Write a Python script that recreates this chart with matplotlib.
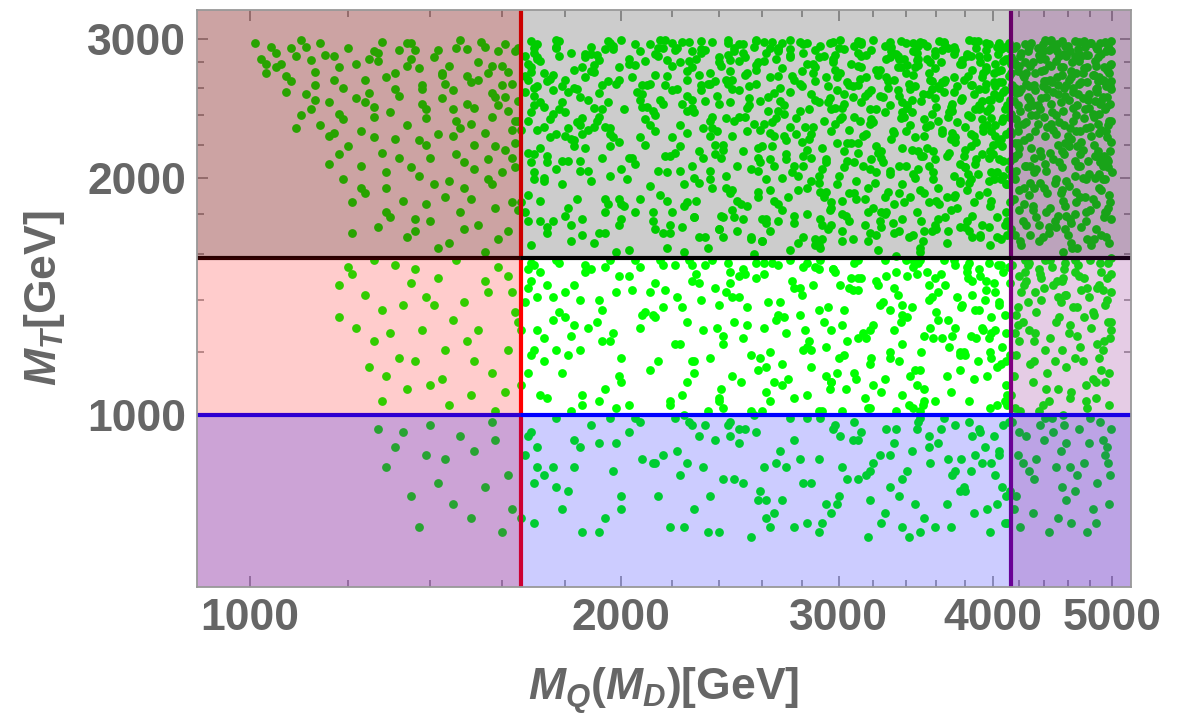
import matplotlib
matplotlib.use('Agg')
import matplotlib.pyplot as plt
import numpy as np

# scan points, (M_Q, M_T) pairs in units of 10 GeV

# M_T above ~1580 GeV
upper_left = [
    101,296, 127,281, 148,299, 113,262, 139,238, 156,271, 105,288, 132,254, 161,217, 144,189,
    118,276, 152,245, 109,231, 135,296, 163,263, 123,207, 141,284, 157,196, 116,249, 130,178,
    146,226, 103,271, 159,289, 126,239, 137,201, 151,264, 111,293, 165,182, 120,219, 143,252,
    134,168, 155,228, 107,257, 128,297, 149,209, 162,243, 115,286, 139,185, 124,266, 153,174,
    102,283, 145,277, 131,224, 158,253, 119,199, 136,290, 164,206, 112,244, 147,236, 127,173,
    154,297, 108,265, 140,212, 160,277, 122,252, 133,187, 150,291, 117,228, 142,163, 129,268,
    163,230, 106,279, 138,248, 156,211, 121,186, 146,258, 114,296, 134,233, 159,167, 125,283,
    152,220, 110,240, 143,270, 165,250, 129,194, 137,275, 104,293, 157,239, 118,214, 148,181,
    131,259, 161,295, 123,229, 140,176, 153,266, 113,272, 135,206, 164,221, 126,246, 145,198,
    109,285, 150,248, 119,260, 158,183, 132,290, 142,227, 116,208, 162,272, 128,215, 155,161,
    138,262, 103,279, 147,292, 124,191, 160,203, 134,277, 114,233, 151,234, 121,170, 144,263,
    165,292, 130,242, 157,256, 111,255, 139,220, 126,289, 149,194, 118,241, 163,186, 136,171,
    108,292, 143,271, 126,225, 159,247, 117,266, 151,188, 134,296, 162,171, 122,279, 147,214,
    105,276, 138,259, 155,293, 129,203, 164,236, 113,251, 146,244, 131,271, 158,219, 120,292,
    141,196, 153,280, 125,256, 136,177, 160,262, 110,299, 148,231, 132,212, 164,289, 119,237,
    145,165, 127,288, 156,199, 139,244, 116,226, 150,269, 123,194, 161,253, 135,283, 107,269,
    152,205, 129,181, 142,290, 163,212, 117,285, 137,223, 157,277, 124,249, 149,172, 112,282,
]

upper_mid = [
    247,236, 352,191, 203,279, 398,164, 309,294, 181,210, 377,251, 229,178, 333,266, 272,223,
    189,287, 264,171, 341,245, 407,219, 222,259, 296,183, 365,297, 173,232, 318,205, 385,274,
    236,199, 311,262, 170,288, 392,237, 255,168, 347,282, 208,246, 281,213, 412,296, 325,181,
    197,225, 274,291, 359,174, 231,270, 403,203, 167,257, 302,239, 386,186, 244,296, 338,218,
    289,164, 212,243, 371,228, 179,196, 328,283, 259,209, 394,259, 221,290, 346,200, 301,271,
    183,274, 317,166, 242,217, 408,281, 269,250, 356,233, 194,181, 380,206, 227,297, 293,192,
    361,261, 176,241, 283,296, 338,177, 214,204, 399,238, 252,284, 324,254, 186,169, 373,290,
    266,187, 401,271, 198,263, 305,221, 240,172, 349,297, 170,214, 387,244, 233,231, 313,276,
    207,289, 336,207, 279,243, 411,176, 168,266, 262,199, 384,227, 298,286, 225,161, 355,255,
    320,235, 192,170, 363,280, 249,258, 396,192, 285,212, 177,299, 342,168, 216,248, 308,261,
    379,213, 234,290, 171,230, 327,189, 257,274, 405,252, 200,205, 291,167, 368,239, 245,282,
    185,253, 299,196, 348,294, 223,219, 390,285, 276,175, 330,247, 166,186, 261,234, 413,210,
    238,265, 370,182, 205,295, 316,227, 270,200, 395,263, 180,242, 350,213, 287,290, 219,174,
    341,278, 256,160, 399,229, 172,281, 294,249, 228,207, 383,171, 311,298, 196,219, 360,246,
    275,269, 191,236, 334,159, 404,287, 246,193, 357,259, 213,270, 304,179, 169,209, 388,222,
    226,186, 366,266, 282,232, 178,298, 319,211, 251,288, 409,244, 198,161, 343,189, 263,253,
    389,202, 217,262, 297,280, 352,226, 174,173, 271,241, 327,294, 241,179, 402,261, 188,230,
    310,188, 257,298, 193,244, 376,197, 230,283, 345,169, 284,224, 414,271, 168,279, 303,206,
    203,162, 338,249, 264,211, 397,295, 182,224, 322,274, 250,185, 369,215, 215,299, 292,236,
    354,283, 176,258, 285,198, 239,229, 411,169, 306,262, 194,291, 378,252, 260,166, 330,204,
    224,248, 393,232, 268,291, 172,176, 337,238, 211,195, 359,275, 295,182, 243,266, 381,287,
    283,217, 199,276, 406,199, 253,245, 318,170, 187,287, 364,228, 232,258, 345,296, 273,189,
    174,265, 314,226, 240,172, 382,269, 209,237, 347,181, 289,284, 166,230, 398,216, 261,297,
    335,258, 255,205, 199,188, 372,293, 228,276, 303,248, 410,181, 185,210, 279,263, 351,166,
    247,292, 391,245, 181,183, 316,286, 264,228, 218,269, 358,203, 296,174, 233,212, 405,264,
    196,201, 328,268, 274,162, 402,226, 170,247, 348,278, 237,194, 385,179, 301,237, 214,285,
    362,185, 208,255, 293,211, 177,292, 321,197, 257,278, 395,290, 231,168, 340,229, 271,247,
    287,276, 359,211, 220,181, 408,257, 252,239, 187,268, 332,175, 270,296, 374,235, 199,222,
    172,218, 306,191, 244,286, 379,266, 210,262, 339,283, 281,168, 397,198, 229,242, 315,254,
    353,232, 180,179, 266,256, 314,207, 409,293, 238,220, 298,274, 190,245, 367,165, 253,184,
    226,273, 387,208, 308,167, 195,298, 351,255, 277,227, 172,187, 330,284, 243,201, 414,241,
    266,207, 213,229, 368,292, 298,245, 183,260, 403,178, 322,219, 249,295, 360,187, 185,233,
    319,290, 242,178, 392,250, 170,203, 287,265, 224,297, 373,222, 338,196, 205,181, 263,243,
    400,214, 191,286, 256,234, 342,263, 216,170, 311,288, 179,249, 384,199, 272,214, 325,173,
    239,254, 364,290, 173,271, 290,192, 407,236, 219,213, 344,242, 262,175, 197,294, 372,257,
    305,264, 230,187, 376,173, 186,238, 326,209, 405,296, 254,252, 169,164, 295,296, 354,218,
    211,233, 286,279, 349,161, 413,251, 245,191, 178,285, 318,244, 380,217, 235,263, 302,180,
    393,271, 258,218, 194,170, 332,229, 274,284, 361,194, 206,257, 313,297, 169,242, 248,207,
    333,185, 177,227, 279,297, 365,264, 223,204, 396,284, 189,273, 260,166, 307,221, 347,288,
    214,292, 381,193, 299,258, 237,239, 412,205, 168,176, 345,270, 274,232, 390,247, 203,212,
    251,177, 313,285, 184,259, 369,242, 232,288, 291,205, 406,167, 196,231, 336,254, 280,273,
    362,298, 225,196, 328,181, 268,269, 174,209, 386,226, 244,299, 355,186, 199,266, 309,239,
    190,165, 343,233, 300,292, 215,251, 378,279, 258,189, 171,295, 322,203, 401,199, 236,226,
    284,244, 410,283, 205,278, 357,171, 265,219, 184,188, 316,268, 240,284, 392,214, 329,192,
    175,237, 291,174, 384,262, 227,281, 348,216, 202,199, 413,229, 269,260, 317,181, 365,296,
    355,207, 246,266, 183,219, 297,297, 398,245, 218,187, 336,283, 281,207, 192,282, 380,173,
    264,292, 331,224, 212,176, 386,298, 167,269, 306,230, 253,271, 370,246, 234,168, 401,264,
    195,249, 372,189, 277,238, 232,298, 409,258, 324,176, 180,226, 346,276, 289,201, 257,299,
    340,271, 204,212, 290,177, 399,187, 262,288, 170,254, 380,232, 226,243, 313,295, 348,205,
    247,178, 356,280, 189,293, 303,255, 220,225, 391,168, 275,203, 412,282, 207,188, 327,242,
    384,239, 171,283, 259,230, 336,191, 293,268, 213,172, 365,257, 241,212, 403,293, 188,204,
    302,171, 232,262, 404,221, 176,270, 319,237, 281,295, 195,185, 357,241, 247,289, 374,183,
    222,292, 343,259, 268,176, 388,211, 210,246, 299,221, 174,213, 331,289, 254,261, 406,274,
    360,172, 186,227, 287,251, 243,194, 412,239, 325,216, 200,299, 267,283, 382,202, 168,236,
    313,249, 258,280, 179,261, 351,213, 236,236, 395,274, 218,163, 292,189, 372,268, 271,226,
    201,184, 396,233, 330,297, 276,179, 190,278, 357,265, 228,251, 411,196, 305,210, 245,249,
    370,224, 217,299, 264,193, 341,247, 173,200, 294,261, 388,292, 231,216, 322,169, 193,262,
    252,270, 310,198, 408,210, 182,174, 337,276, 274,286, 361,177, 209,281, 285,227, 397,251,
    278,165, 223,280, 384,285, 303,216, 194,232, 351,296, 246,226, 170,292, 329,260, 391,169,
    171,261, 258,192, 334,287, 402,233, 219,170, 289,249, 376,198, 196,296, 311,215, 245,273,
    367,189, 183,223, 276,266, 349,163, 228,289, 405,254, 300,201, 213,240, 391,280, 262,177,
    318,234, 200,185, 383,299, 251,216, 169,272, 344,251, 283,180, 226,228, 410,196, 297,283,
    235,163, 355,271, 177,205, 290,294, 409,174, 267,238, 330,202, 192,256, 373,225, 249,281,
    307,279, 221,215, 397,212, 168,190, 340,296, 280,261, 242,168, 361,236, 187,284, 326,253,
    395,276, 253,229, 204,268, 315,174, 374,261, 178,244, 293,209, 237,297, 349,193, 270,182,
    186,177, 338,242, 265,297, 410,227, 211,263, 302,166, 381,285, 229,200, 165,236, 323,270,
    281,288, 173,198, 358,216, 246,259, 320,183, 390,244, 216,292, 296,229, 403,168, 240,248,
    352,171, 261,281, 193,212, 406,291, 333,228, 224,173, 286,271, 376,208, 180,266, 309,191,
    242,220, 399,203, 311,277, 182,166, 268,243, 345,289, 207,225, 385,262, 296,186, 169,298,
    329,265, 255,167, 172,249, 372,287, 218,203, 308,253, 397,173, 236,271, 283,194, 352,237,
    197,291, 291,218, 366,178, 226,254, 414,279, 274,299, 168,215, 340,207, 248,187, 393,229,
    265,235, 386,255, 212,181, 303,291, 175,267, 358,199, 240,280, 411,247, 323,162, 190,232,
    376,279, 287,167, 228,245, 405,211, 181,257, 337,298, 258,204, 298,234, 199,174, 364,264,
    231,197, 317,256, 171,284, 390,190, 272,211, 208,262, 346,225, 404,273, 256,293, 302,245,
    413,186, 188,251, 294,172, 359,289, 237,231, 323,215, 179,210, 264,268, 382,240, 218,282,
    301,299, 246,182, 371,248, 196,227, 333,170, 407,264, 220,277, 285,255, 167,181, 344,217,
    182,288, 362,260, 276,207, 215,190, 395,296, 312,236, 254,247, 174,170, 335,276, 408,201,
    244,263, 327,180, 189,198, 384,219, 292,285, 223,233, 368,171, 270,275, 401,255, 205,208,
    354,294, 234,250, 309,209, 169,276, 280,222, 398,184, 195,265, 339,239, 260,177, 378,282,
    217,213, 392,268, 268,185, 324,274, 184,235, 350,250, 251,295, 406,224, 290,163, 232,291,
    339,186, 177,293, 296,244, 372,201, 207,251, 260,219, 413,291, 317,194, 226,266, 385,168,
    274,257, 200,177, 356,266, 238,214, 320,299, 396,243, 185,204, 289,197, 364,230, 170,260,
    402,279, 249,239, 315,188, 213,287, 367,213, 175,225, 283,279, 336,171, 257,263, 194,188,
    322,244, 190,272, 381,176, 299,268, 225,184, 348,283, 266,226, 408,238, 173,246, 236,204,
    389,298, 241,277, 192,239, 278,193, 359,252, 306,176, 211,295, 345,202, 167,285, 400,220,
    258,212, 331,293, 176,176, 390,259, 286,232, 220,258, 373,190, 248,171, 312,267, 201,244,
    346,261, 268,289, 209,220, 412,269, 302,187, 186,276, 359,286, 229,178, 380,206, 295,252,
    181,231, 311,221, 392,174, 259,250, 170,199, 335,285, 220,296, 371,243, 287,164, 243,238,
    399,251, 278,201, 203,283, 350,176, 236,263, 325,212, 187,218, 268,292, 383,197, 319,258,
]

upper_right = [
    437,283, 466,201, 419,247, 491,266, 452,179, 480,296, 428,225, 497,190, 459,262, 444,170,
    474,238, 415,292, 486,213, 448,257, 431,184, 499,279, 462,231, 421,166, 493,244, 455,206,
    426,271, 482,188, 441,299, 468,219, 418,204, 495,253, 457,287, 434,240, 477,167, 450,227,
    489,296, 423,234, 463,175, 440,265, 498,216, 470,281, 416,188, 454,249, 485,172, 432,212,
    447,292, 479,255, 420,277, 496,233, 459,198, 433,258, 471,207, 490,287, 442,181, 425,295,
    465,245, 417,221, 488,202, 451,268, 429,197, 483,239, 456,161, 499,298, 438,252, 474,275,
    422,259, 493,181, 445,215, 469,291, 414,172, 486,260, 461,219, 436,286, 497,165, 453,235,
    481,226, 427,289, 458,254, 490,193, 439,168, 472,264, 418,237, 495,274, 449,197, 466,298,
    432,203, 476,181, 424,268, 499,222, 456,276, 443,232, 484,250, 416,281, 467,186, 493,297,
    452,262, 420,193, 487,284, 437,244, 478,210, 426,174, 462,289, 498,248, 444,278, 471,229,
    415,262, 490,230, 458,172, 430,218, 475,293, 448,211, 496,183, 421,243, 465,257, 483,167,
    439,289, 467,240, 419,214, 494,261, 454,191, 485,277, 428,261, 472,173, 446,248, 500,203,
    478,286, 434,178, 461,266, 416,250, 489,209, 451,295, 425,207, 497,236, 441,226, 468,163,
    457,214, 482,270, 422,288, 445,183, 473,252, 430,296, 492,178, 463,224, 417,199, 488,241,
    435,234, 499,265, 450,240, 476,199, 427,253, 464,280, 485,293, 440,194, 419,273, 459,179,
    470,297, 442,265, 495,211, 424,185, 483,220, 455,298, 414,227, 491,253, 436,174, 466,210,
    447,242, 418,294, 479,245, 460,169, 492,276, 431,280, 452,220, 484,200, 426,235, 498,290,
    463,268, 429,207, 488,228, 439,261, 471,189, 420,257, 457,233, 494,168, 444,290, 477,276,
    416,212, 453,285, 481,164, 433,271, 496,206, 465,236, 424,223, 487,265, 449,176, 472,285,
    490,250, 438,213, 460,294, 414,284, 476,231, 445,266, 499,177, 428,190, 467,271, 455,193,
    423,176, 486,291, 442,204, 469,255, 435,292, 494,229, 417,260, 458,221, 480,182, 450,281,
    473,217, 419,229, 456,187, 491,199, 440,274, 464,163, 485,259, 431,247, 498,261, 446,299,
    468,247, 425,280, 491,207, 443,191, 477,264, 417,169, 458,294, 499,236, 433,229, 485,185,
    452,255, 420,218, 496,294, 438,273, 473,200, 462,177, 488,268, 427,246, 445,298, 414,201,
    482,241, 436,166, 466,285, 492,213, 419,233, 455,270, 441,208, 499,259, 428,293, 476,176,
    460,226, 486,292, 431,182, 447,264, 494,246, 418,256, 471,214, 450,173, 423,270, 480,232,
    437,197, 465,260, 498,186, 426,207, 456,243, 484,281, 415,239, 470,287, 442,253, 490,169,
    453,209, 474,298, 421,285, 495,225, 435,247, 461,195, 487,216, 446,277, 429,169, 467,229,
    479,202, 416,292, 440,239, 497,271, 458,184, 432,262, 473,271, 489,248, 424,194, 451,289,
    466,180, 438,286, 484,213, 419,221, 457,260, 493,199, 444,173, 475,244, 429,277, 499,289,
    448,230, 486,257, 422,164, 463,273, 437,216, 494,181, 470,263, 455,216, 414,250, 481,296,
    430,240, 475,189, 498,278, 441,283, 461,251, 418,278, 488,194, 450,199, 472,222, 426,263,
    492,265, 434,205, 459,285, 478,251, 420,182, 446,234, 496,210, 467,192, 439,295, 483,270,
    417,213, 454,276, 487,234, 429,251, 463,165, 494,289, 443,259, 476,286, 432,194, 469,207,
]

# 1000 GeV < M_T < 1580 GeV
middle_left = [
    121,151, 138,128, 156,143, 129,112, 147,157, 162,121, 133,138, 118,146, 151,106, 142,149,
    126,124, 159,154, 136,117, 164,135, 124,142, 145,103, 131,155, 153,128, 140,109, 118,133,
    157,113, 128,104, 149,139, 135,147, 162,150, 122,129, 144,121, 132,118, 158,101, 126,157,
    139,141, 152,117, 120,154, 146,132, 134,108, 161,107, 128,136, 155,148, 143,111, 136,153,
    150,124, 125,115, 163,143, 141,138, 130,127,
]

middle_mid = [
    247,131, 352,108, 203,150, 398,102, 309,156, 181,119, 377,137, 229,113, 333,145, 272,127,
    189,153, 264,104, 341,133, 407,122, 222,141, 296,110, 365,157, 173,125, 318,116, 385,148,
    236,118, 311,144, 170,155, 392,129, 255,101, 347,151, 208,134, 281,121, 412,154, 325,107,
    197,127, 274,157, 359,104, 231,147, 403,115, 167,139, 302,130, 386,111, 244,156, 338,123,
    289,101, 212,134, 371,126, 179,113, 328,150, 259,118, 394,140, 221,155, 346,114, 301,146,
    183,146, 317,102, 242,123, 408,152, 269,139, 356,129, 194,108, 380,119, 227,157, 293,112,
    361,143, 176,132, 283,156, 338,106, 214,117, 399,133, 252,151, 324,138, 186,103, 373,155,
    266,110, 401,147, 198,143, 305,124, 240,104, 349,157, 170,121, 387,136, 233,128, 313,149,
    207,154, 336,117, 279,134, 411,106, 168,145, 262,115, 384,126, 298,152, 225,100, 355,140,
    320,130, 192,104, 363,151, 249,141, 396,112, 285,121, 177,157, 342,103, 216,137, 308,144,
    379,120, 234,155, 171,128, 327,111, 257,149, 405,138, 200,118, 291,101, 368,132, 245,152,
    185,140, 299,113, 348,156, 223,123, 390,153, 276,105, 330,136, 166,109, 261,129, 413,119,
    238,145, 370,107, 205,157, 316,125, 270,116, 395,144, 180,133, 350,120, 287,154, 219,103,
    341,150, 256,100, 399,127, 172,152, 294,137, 228,117, 383,104, 311,157, 196,124, 360,135,
    275,148, 191,131, 334,101, 404,155, 246,112, 357,141, 213,147, 304,108, 169,119, 388,125,
    226,110, 366,146, 282,128, 178,156, 319,118, 251,153, 409,134, 198,102, 343,112, 263,139,
    389,117, 217,144, 297,153, 352,126, 174,105, 271,133, 327,157, 241,108, 402,143, 188,129,
    310,111, 257,156, 193,136, 376,114, 230,151, 345,102, 284,124, 413,147, 168,153, 303,119,
    203,103, 338,138, 264,120, 397,156, 182,126, 322,148, 250,110, 369,122, 215,157, 292,131,
    354,152, 176,141, 285,115, 239,129, 411,103, 306,145, 194,154, 378,138, 260,101, 330,118,
    224,137, 393,128, 268,155, 172,106, 337,131, 211,114, 359,149, 295,108, 243,143, 381,154,
    283,122, 199,150, 406,116, 253,137, 318,102, 187,155, 364,125, 232,140, 345,157, 273,111,
    174,146, 314,127, 240,105, 382,149, 209,135, 347,109, 289,153, 166,128, 398,120, 261,156,
    335,142, 255,119, 199,112, 372,157, 228,148, 303,136, 410,109, 185,121, 279,145, 351,103,
    171,141, 258,114, 334,152, 402,128, 219,104, 289,136, 376,119, 196,157, 311,125, 245,147,
    367,112, 183,130, 276,145, 349,101, 228,155, 405,139, 300,118, 213,133, 391,150, 262,107,
    318,128, 200,110, 383,156, 251,125, 169,148, 344,137, 283,106, 226,131, 410,117, 297,153,
    235,101, 355,146, 177,121, 290,157, 409,104, 267,132, 330,120, 192,140, 373,129, 249,150,
    307,149, 221,123, 397,125, 168,113, 340,157, 280,142, 242,102, 361,132, 187,152, 326,139,
    395,148, 253,130, 204,144, 315,105, 374,141, 178,135, 293,122, 237,157, 349,114, 270,109,
    186,106, 338,134, 265,156, 410,127, 211,143, 302,101, 381,152, 229,117, 165,131, 323,146,
    281,154, 173,117, 358,125, 246,141, 320,109, 390,136, 216,155, 296,128, 403,103, 240,138,
    352,104, 261,151, 193,124, 406,155, 333,128, 224,106, 286,146, 376,120, 180,143, 309,113,
    242,126, 399,118, 311,149, 182,101, 268,134, 345,154, 207,129, 385,142, 296,110, 169,156,
]

middle_right = [
    437,151, 466,118, 419,137, 491,144, 452,108, 480,157, 428,128, 497,113, 459,142, 444,104,
    474,133, 415,155, 486,123, 448,146, 431,110, 499,151, 462,130, 421,101, 493,138, 455,121,
    426,148, 482,111, 441,157, 468,126, 418,119, 495,140, 457,153, 434,135, 477,102, 450,131,
    489,156, 423,131, 463,107, 440,145, 498,125, 470,150, 416,112, 454,139, 485,105, 432,124,
    447,154, 479,141, 420,150, 496,131, 459,115, 433,143, 471,122, 490,152, 442,108, 425,157,
    465,137, 417,127, 488,118, 451,148, 429,116, 483,134, 456,100, 499,158, 438,140, 474,149,
    422,143, 493,110, 445,125, 469,155, 414,106, 486,145, 461,127, 436,153, 497,103, 453,133,
    481,129, 427,155, 458,142, 490,114, 439,103, 472,144, 418,134, 495,149, 449,117, 466,157,
    432,117, 476,109, 424,146, 499,128, 456,149,
    468,137, 425,152, 491,121, 443,113, 477,145, 417,102, 458,156, 499,131, 433,127, 485,110,
    452,141, 420,124, 496,156, 438,149, 473,117, 462,105, 488,146, 427,139, 445,157, 414,119,
    482,135, 436,101, 466,152, 492,124, 419,130, 455,148, 441,121, 499,143, 428,156, 476,104,
]

# M_T below 1000 GeV
lower_left = [
    127,96, 144,88, 158,93, 135,79, 151,74, 131,91, 162,84, 140,97, 155,81, 137,72,
    148,94, 129,86, 163,76, 142,82, 133,95, 157,98, 146,77, 139,89, 160,71, 152,90,
]

lower_mid = [
    247,83, 352,74, 203,95, 398,71, 309,98, 181,80, 377,88, 229,76, 333,92, 272,86,
    189,97, 264,72, 341,85, 407,81, 222,90, 296,75, 365,99, 173,84, 318,78, 385,94,
    236,79, 311,93, 170,73, 392,87, 255,70, 347,96, 208,88, 281,82, 412,98, 325,73,
    197,85, 274,99, 359,72, 231,94, 403,77, 167,89, 302,86, 386,75, 244,97, 338,83,
    289,71, 212,87, 371,84, 179,76, 328,96, 259,80, 394,91, 221,99, 346,77, 301,94,
    183,93, 317,70, 242,83, 408,97, 269,90, 356,87, 194,74, 380,80, 227,98, 293,77,
    361,92, 176,86, 283,99, 338,72, 214,79, 399,87, 252,96, 324,89, 186,71, 373,97,
    266,75, 401,94, 198,92, 305,83, 240,71, 349,99, 170,82, 387,89, 233,86, 313,95,
    207,98, 336,79, 279,88, 411,73, 168,94, 262,78, 384,85, 298,97, 225,72, 355,91,
    320,87, 192,71, 363,96, 249,92, 396,76, 285,82, 177,99, 342,70, 216,89, 308,93,
    379,81, 234,97, 171,86, 327,75, 257,95, 405,90, 200,79, 291,73, 368,88, 245,98,
    185,91, 299,77, 348,98, 223,84, 390,96, 276,72, 330,89, 166,74, 261,86, 413,80,
    238,93, 370,72, 205,99, 316,84, 270,78,
    171,91, 258,78, 334,96, 402,84, 219,72, 289,88, 376,80, 196,99, 311,83, 245,94,
    367,77, 183,86, 276,93, 349,71, 228,97, 405,89, 300,79, 213,87, 391,95, 262,74,
    318,85, 200,76, 383,98, 251,82, 169,95, 344,90, 283,73, 226,87, 410,79, 297,96,
    235,71, 355,94, 177,81, 290,99, 409,73, 267,87, 330,81, 192,92, 373,85, 249,96,
]

lower_right = [
    437,97, 466,80, 419,89, 491,93, 452,74, 480,99, 428,85, 497,77, 459,92, 444,71,
    474,87, 415,98, 486,82, 448,95, 431,75, 499,96, 462,86, 421,72, 493,89, 455,81,
    426,94, 482,76, 441,99, 468,84, 418,79, 495,91, 457,97, 434,88, 477,71, 450,86,
    489,98, 423,87, 463,73, 440,93, 498,84, 470,96, 416,76, 454,90, 485,73, 432,83,
    447,99, 479,92, 420,95, 496,87, 459,78,
]

# bounds drawn on the plot (GeV)
mq_red = 1659
mq_purple = 4140
mt_black = 1580
mt_blue = 1000

x_ticks = [1000, 2000, 3000, 4000, 5000]
y_ticks = [1000, 2000, 3000]

plt.rcParams['font.family'] = ['Liberation Sans', 'DejaVu Sans']
plt.rcParams['mathtext.fontset'] = 'custom'
plt.rcParams['mathtext.it'] = 'Liberation Sans:bold:italic'
plt.rcParams['mathtext.rm'] = 'Liberation Sans:bold'
plt.rcParams['mathtext.bf'] = 'Liberation Sans:bold'

grey = '#666666'
frame = '#999999'

fig = plt.figure(figsize=(11.88, 7.17), dpi=100)
ax = fig.add_axes([197 / 1188, 130 / 717, 934 / 1188, 577 / 717])
ax.set_xscale('log')
ax.set_yscale('log')
xlo, xhi = 906, 5178
ylo, yhi = 605, 3262

# points first, shaded bands go on top of them
allpts = np.concatenate([np.array(p).reshape(-1, 2) for p in
                         [upper_left, upper_mid, upper_right,
                          middle_left, middle_mid, middle_right,
                          lower_left, lower_mid, lower_right]]) * 10
ax.scatter(allpts[:, 0], allpts[:, 1], s=40, marker='o', color='#00ff00',
           linewidths=0, zorder=1)

ax.axvline(mq_red, color='red', lw=3, zorder=2)
ax.axvline(mq_purple, color='purple', lw=3, zorder=2)
ax.axhline(mt_black, color='black', lw=3, zorder=2)
ax.axhline(mt_blue, color='blue', lw=3, zorder=2)

ax.axvspan(xlo, mq_red, color='red', alpha=0.2, lw=0, zorder=3)
ax.axhspan(mt_black, yhi, color='black', alpha=0.2, lw=0, zorder=3)
ax.axhspan(ylo, mt_blue, color='blue', alpha=0.2, lw=0, zorder=3)
ax.axvspan(mq_purple, xhi, color='purple', alpha=0.2, lw=0, zorder=3)

ax.set_xlim(xlo, xhi)
ax.set_ylim(ylo, yhi)

ax.set_xticks(x_ticks)
ax.set_xticklabels([str(t) for t in x_ticks])
ax.set_xticks([v for v in range(1200, 5000, 200) if v % 1000], minor=True)
ax.set_xticklabels([], minor=True)
ax.set_yticks(y_ticks)
ax.set_yticklabels([str(t) for t in y_ticks])
ax.set_yticks([v for v in range(1200, 3000, 200) if v % 1000], minor=True)
ax.set_yticklabels([], minor=True)

ax.tick_params(which='both', direction='in', top=True, right=True, color=frame,
               labelcolor=grey, labelsize=32, pad=8, width=1.2)
ax.tick_params(which='major', length=8)
ax.tick_params(which='minor', length=5)
for lab in ax.get_xticklabels() + ax.get_yticklabels():
    lab.set_fontweight('bold')
for sp in ax.spines.values():
    sp.set_color(frame)
    sp.set_linewidth(1.3)
    sp.set_zorder(5)

ax.set_xlabel(r'$M_Q(M_D)$[GeV]', fontsize=32, fontweight='bold', color=grey, labelpad=19)
ax.set_ylabel(r'$M_T$[GeV]', fontsize=32, fontweight='bold', color=grey, labelpad=14)

fig.savefig('out.png', dpi=100)
